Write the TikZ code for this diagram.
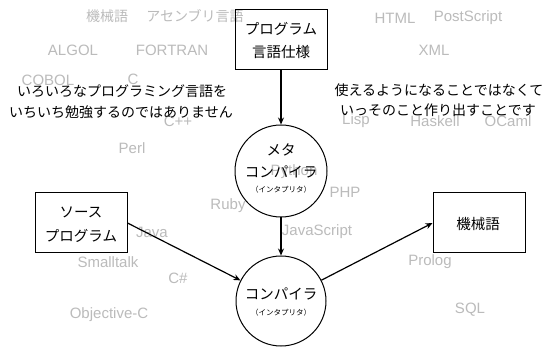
\documentclass[tikz,border=0pt]{standalone}
\usepackage{fontspec}
\setmainfont{Liberation Sans}
\newfontfamily\jp{Noto Sans CJK JP}
\usetikzlibrary{arrows.meta}
\definecolor{lg}{HTML}{BBBBBB}
\begin{document}
\begin{tikzpicture}[x=1pt,y=-1pt,
  lang/.style={text=lg, inner sep=0pt, font=\fontsize{15}{17}\selectfont},
  jlang/.style={text=lg, inner sep=0pt, font=\jp\fontsize{14}{16}\selectfont},
  msg/.style={text=black, inner sep=0pt, font=\jp\fontsize{14}{16}\selectfont},
  lbl/.style={text=black, inner sep=0pt, font=\jp\fontsize{14.5}{16}\selectfont},
  small/.style={text=black, inner sep=0pt, font=\jp\fontsize{7.5}{9}\selectfont},
  boxn/.style={draw, line width=1pt, rectangle, inner sep=0pt},
  circn/.style={draw, line width=1pt, circle, inner sep=0pt},
  arr/.style={line width=1.2pt, -{Stealth[length=7pt,width=6pt]}}]
\path[fill=white] (0,0) rectangle (554,347);
\useasboundingbox (0,0) rectangle (554,347);
% background language names
\node[jlang] (l1) at (107,16) {機械語};
\node[jlang] (l2) at (195,16) {アセンブリ言語};
\node[lang] (l3) at (73,50) {ALGOL};
\node[lang] (l4) at (172,50) {FORTRAN};
\node[lang] (l5) at (48,80) {COBOL};
\node[lang] (l6) at (133,79) {C};
\node[lang] (l7) at (178,121) {C++};
\node[lang] (l8) at (132,148) {Perl};
\node[lang] (l9) at (228,206) {Ruby};
\node[lang] (l10) at (152,232) {Java};
\node[lang] (l11) at (108,262) {Smalltalk};
\node[lang] (l12) at (178,278) {C\#};
\node[lang] (l13) at (109,315) {Objective-C};
\node[lang] (l14) at (395,18) {HTML};
\node[lang] (l15) at (468,18) {PostScript};
\node[lang] (l16) at (434,50) {XML};
\node[lang] (l17) at (356,121) {Lisp};
\node[lang] (l18) at (435,121) {Haskell};
\node[lang] (l19) at (508,121) {OCaml};
\node[lang] (l20) at (294,172) {Python};
\node[lang] (l21) at (345,192) {PHP};
\node[lang] (l22) at (317,232) {JavaScript};
\node[lang] (l23) at (430,262) {Prolog};
\node[lang] (l24) at (470,310) {SQL};
% messages
\node[msg] (m1) at (122,91) {いろいろなプログラミング言語を};
\node[msg] (m2) at (121,112) {いちいち勉強するのではありません};
\node[msg] (m3) at (439,90) {使えるようになることではなくて};
\node[msg] (m4) at (438,110) {いっそのこと作り出すことです};
% main shapes
\node[boxn, minimum width=92pt, minimum height=60pt] (spec) at (281,40) {};
\node[lbl] (spect1) at (281,29) {プログラム};
\node[lbl] (spect2) at (281,52) {言語仕様};
\node[circn, minimum size=92pt] (meta) at (281,171) {};
\node[lbl] (metat1) at (281,150) {メタ};
\node[lbl] (metat2) at (281,172) {コンパイラ};
\node[small] (metat3) at (281,190) {（インタプリタ）};
\node[circn, minimum size=90pt] (comp) at (281,301) {};
\node[lbl] (compt1) at (281,294) {コンパイラ};
\node[small] (compt2) at (281,313) {（インタプリタ）};
\node[boxn, minimum width=92pt, minimum height=60pt] (src) at (81,223) {};
\node[lbl] (srct1) at (81,212) {ソース};
\node[lbl] (srct2) at (81,236) {プログラム};
\node[boxn, minimum width=92pt, minimum height=60pt] (mach) at (479,223) {};
\node[lbl] (macht) at (478,224) {機械語};
% connectors
\draw[arr] (spec) -- (meta);
\draw[arr] (meta) -- (comp);
\draw[arr] (src.east) -- (comp);
\draw[arr] (comp) -- (mach.west);
\end{tikzpicture}
\end{document}
